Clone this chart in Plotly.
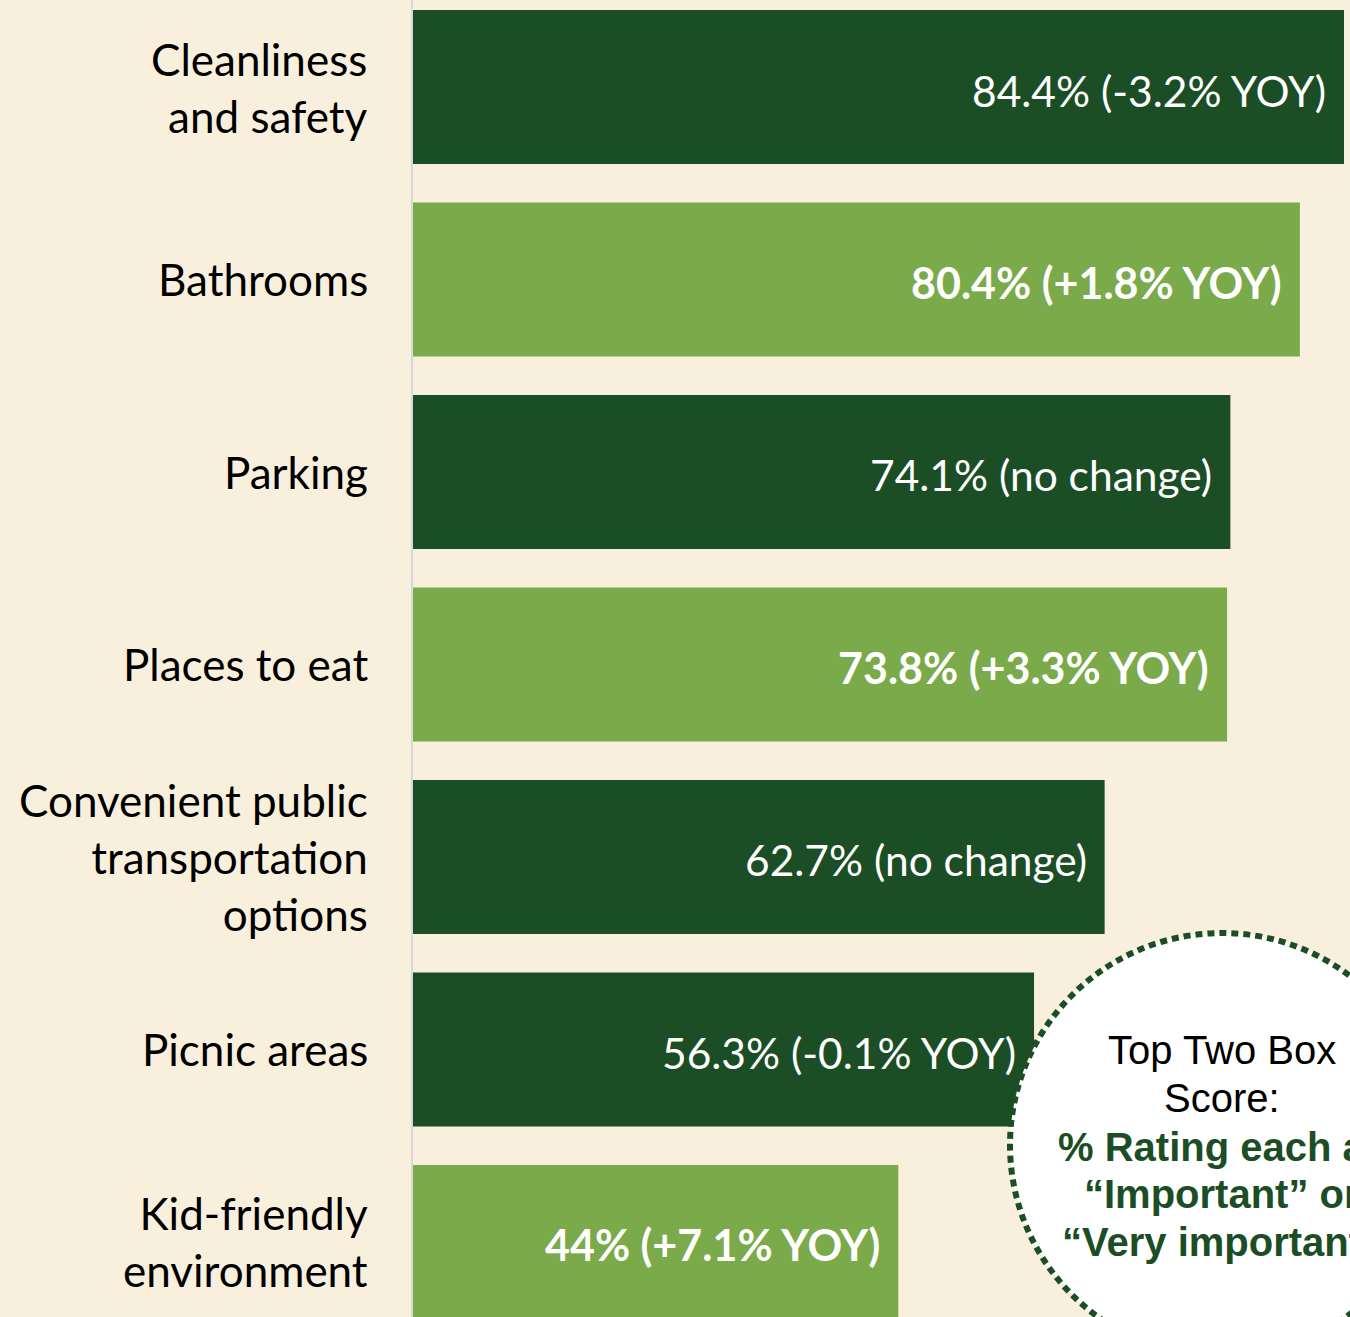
import plotly.graph_objects as go

categories = ["Cleanliness<br>and safety", "Bathrooms", "Parking", "Places to eat",
              "Convenient public<br>transportation<br>options", "Picnic areas",
              "Kid-friendly<br>environment"]
values = [84.4, 80.4, 74.1, 73.8, 62.7, 56.3, 44.0]
value_labels = ["84.4% (-3.2% YOY)", "80.4% (+1.8% YOY)", "74.1% (no change)",
                "73.8% (+3.3% YOY)", "62.7% (no change)", "56.3% (-0.1% YOY)",
                "44% (+7.1% YOY)"]
highlight = [False, True, False, True, False, False, True]

DARK = "#1C4E26"
LIGHT = "#7AAA4A"
BG = "#F8F0DC"

idx = list(range(len(categories)))
fig = go.Figure()
fig.add_trace(go.Bar(
    x=values, y=idx, orientation="h", width=0.8,
    marker=dict(color=[LIGHT if h else DARK for h in highlight], line=dict(width=0)),
    hoverinfo="skip",
))

annotations = []
for i, (cat, v, lab, h) in enumerate(zip(categories, values, value_labels, highlight)):
    annotations.append(dict(
        x=0, xref="paper", y=i, yref="y", xanchor="right", yanchor="middle",
        xshift=-43, text=cat, align="right", showarrow=False,
        font=dict(family="Lato", size=44, color="#000000"),
    ))
    annotations.append(dict(
        x=v, xref="x", y=i, yref="y", xanchor="right", yanchor="middle",
        xshift=-16, yshift=-3, text=(f"<b>{lab}</b>" if h else lab), showarrow=False,
        font=dict(family="Lato", size=(43 if h else 42.5), color="#FFFFFF"),
    ))

W, H, L = 1350, 1317, 413
def px(x):
    return (x - L) / (W - L)
def py(y):
    return 1 - y / H

cx, cy, r = 1222, 1145, 212
shapes = [dict(type="circle", xref="paper", yref="paper",
               x0=px(cx - r), x1=px(cx + r), y0=py(cy + r), y1=py(cy - r),
               fillcolor="#FFFFFF", line=dict(color=DARK, width=6, dash="7px,5px"),
               layer="above")]

circle_lines = [("Top Two Box", 1050, False), ("Score:", 1098, False),
                ("% Rating each as", 1147, True), ("“Important” or", 1194, True),
                ("“Very important”", 1242, True)]
for text, yy, bold in circle_lines:
    annotations.append(dict(
        x=px(cx), xref="paper", y=py(yy), yref="paper", xanchor="center", yanchor="middle",
        text=(f"<b>{text}</b>" if bold else text), showarrow=False,
        font=dict(family="Liberation Sans, Arial", size=40,
                  color=(DARK if bold else "#000000")),
    ))

fig.update_layout(
    width=W, height=H, margin=dict(l=L, r=0, t=0, b=0),
    paper_bgcolor=BG, plot_bgcolor=BG, showlegend=False,
    xaxis=dict(range=[0, (W - L) / ((1344 - L) / 84.4)], visible=False, fixedrange=True),
    yaxis=dict(range=[6.39, -0.452], showticklabels=False, showgrid=False, zeroline=False,
               showline=True, linecolor="#D9D9D9", linewidth=2, ticks="", fixedrange=True),
    shapes=shapes, annotations=annotations,
)

fig.write_html(
    "out.html",
    config={"displayModeBar": False},
    post_script="document.body.style.margin='0';document.body.style.background='#F8F0DC';",
)
